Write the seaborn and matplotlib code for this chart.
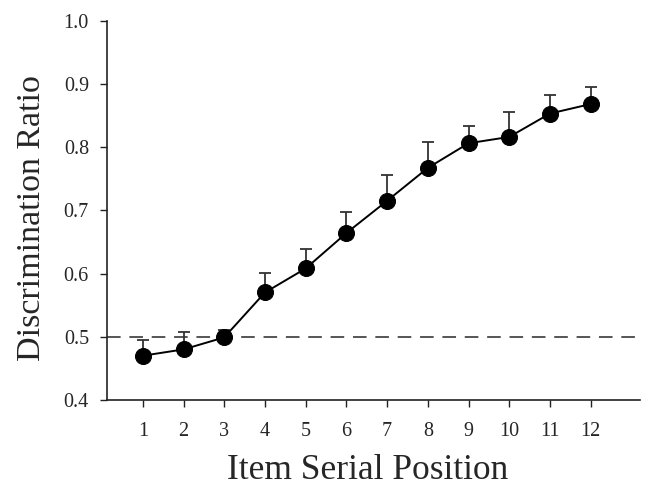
import numpy as np
import matplotlib
matplotlib.use("Agg")
import matplotlib.pyplot as plt
import seaborn as sns
import pandas as pd

# serial position data
positions = [1, 2, 3, 4, 5, 6, 7, 8, 9, 10, 11, 12]
ratio = [0.470, 0.480, 0.499, 0.570, 0.608, 0.664, 0.715, 0.767, 0.806, 0.816, 0.853, 0.868]
sem = [0.025, 0.027, 0.012, 0.031, 0.031, 0.034, 0.041, 0.041, 0.027, 0.039, 0.030, 0.027]
yticks = [0.4, 0.5, 0.6, 0.7, 0.8, 0.9, 1.0]

df = pd.DataFrame({'Position': positions, 'Ratio': ratio, 'SEM': sem})

sns.set_style("ticks")
plt.rcParams['font.family'] = ['Liberation Serif', 'DejaVu Serif']

fig = plt.figure(figsize=(6.46, 4.9), dpi=100)
ax = fig.add_axes([0.1656, 0.1837, 0.8244, 0.7743])

# chance line
ax.axhline(0.5, color='#555555', lw=1.4, ls=(0, (7, 4.5)), zorder=1)

# upper error bars only
ax.errorbar(df['Position'], df['Ratio'], yerr=[np.zeros(len(df)), df['SEM']],
            fmt='none', ecolor='#333333', elinewidth=1.3, capsize=4.5, capthick=1.3, zorder=2)

sns.lineplot(x='Position', y='Ratio', data=df, ax=ax, color='black', lw=1.4,
             marker='o', markersize=11.5, markeredgecolor='black', zorder=3)

ax.set_xlim(0.12, 13.2)
ax.set_ylim(0.4, 1.0)
ax.set_xticks(positions)
ax.set_yticks(yticks)
ax.set_yticklabels([f'{v:.1f}' for v in yticks])
ax.tick_params(axis='both', labelsize=14.5, length=5, width=1, color='#222222', direction='out')
ax.tick_params(axis='x', pad=11)
ax.tick_params(axis='y', pad=8)
ax.set_xlabel('Item Serial Position', fontsize=25.5, labelpad=9.5)
ax.set_ylabel('Discrimination Ratio', fontsize=24.5, labelpad=12)
ax.xaxis.label.set_x(0.489)
ax.yaxis.label.set_y(0.479)
sns.despine(ax=ax)
for s in ['left', 'bottom']:
    ax.spines[s].set_linewidth(1.2)
    ax.spines[s].set_color('#222222')

plt.savefig('out.png', dpi=100)
